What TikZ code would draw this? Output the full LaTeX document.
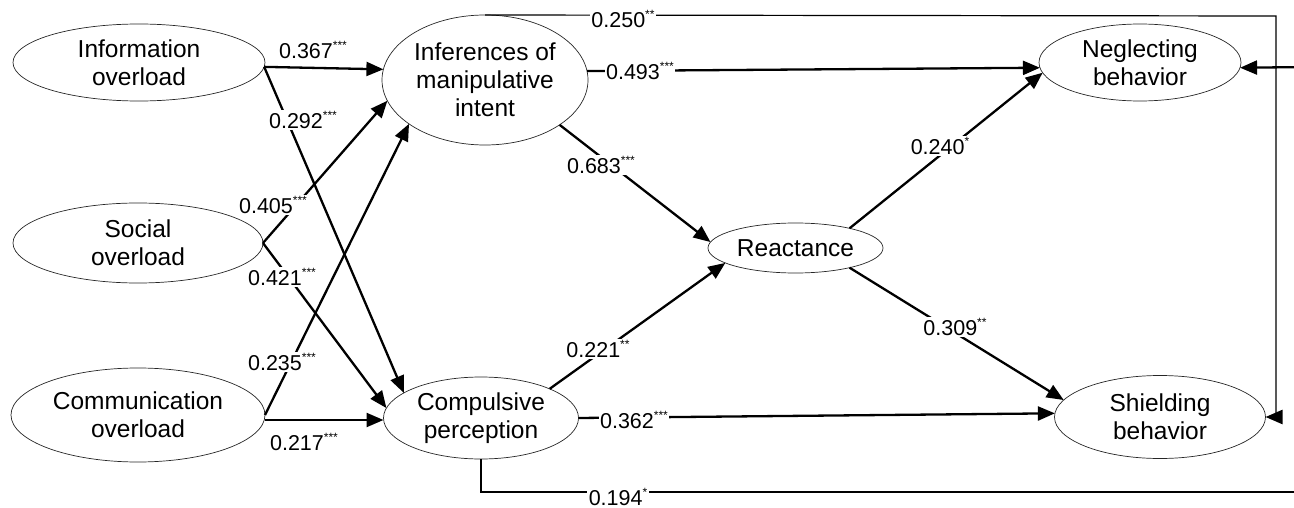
\documentclass[tikz,border=0pt]{standalone}
\usepackage{fontspec}
\setmainfont{Liberation Sans}
\usetikzlibrary{arrows.meta,shapes.geometric}
\newcommand{\sigmark}[1]{\raisebox{9pt}{\fontsize{12}{12}\selectfont #1}}
\tikzset{
  var/.style={ellipse, draw=black!85, line width=0.7pt, inner sep=0pt, outer sep=0pt,
    align=center, font=\fontsize{24.5}{28}\selectfont},
  path/.style={line width=2.3pt, -{Triangle[length=17pt,width=14pt]}},
  fb/.style={line width=1.2pt},
  lbl/.style={font=\fontsize{21.5}{25}\selectfont, inner sep=1.5pt},
  lblw/.style={lbl, fill=white},
}
\begin{document}
\begin{tikzpicture}[x=1pt,y=-1pt]
\useasboundingbox (0,0) rectangle (1294,508);
\clip (0,0) rectangle (1294,508);

\node[var, minimum width=252pt, minimum height=77pt] (info) at (139,62.5) {Information\\overload};
\node[var, minimum width=250pt, minimum height=80pt] (social) at (138,243) {Social\\overload};
\node[var, minimum width=254pt, minimum height=94pt] (comm) at (138,415) {Communication\\overload};
\node[var, minimum width=206pt, minimum height=130pt] (inf) at (485,80) {Inferences of\\manipulative\\intent};
\node[var, minimum width=195pt, minimum height=82pt] (cp) at (481,418) {Compulsive\\perception};
\node[var, minimum width=175pt, minimum height=50pt] (react) at (795.5,248) {Reactance};
\node[var, minimum width=202pt, minimum height=77pt] (neg) at (1140,62.5) {Neglecting\\behavior};
\node[var, minimum width=211pt, minimum height=83pt] (shield) at (1160,417) {Shielding\\behavior};

\coordinate (rt) at (1276,16);
\coordinate (rb) at (1276,417);
\coordinate (bc) at (1310,492);
\coordinate (tc) at (1310,67);

% feedback lines
\draw[fb] (inf.north) -- (rt) -- (rb);
\draw[path] (rb) -- (shield.east);
\draw[fb] (cp.south) |- (bc) -- (tc);
\draw[path] (tc) -- (neg.-3);

% paths
\draw[path] (info.-2.5) -- (inf.174);
\draw[path] (info.-2.5) -- (cp.162);
\draw[path] (social.east) -- (inf.192);
\draw[path] (social.east) -- (cp.174);
\draw[path] (comm.east) -- (inf.210);
\draw[path] ([yshift=-5pt]comm.east) -- ([yshift=-2pt]cp.west);
\draw[path] (inf.-31) -- (react.176);
\draw[path] (cp.23) -- (react.192);
\draw[path] (react.20) -- (neg.186);
\draw[path] (react.-20) -- (shield.170);
\draw[path] (inf.5) -- (neg.183);
\draw[path] (cp.east) -- (shield.178);

% labels
\node[lbl]  (l367) at (313,50)  {0.367\sigmark{***}};
\node[lblw] (l292) at (303,120) {0.292\sigmark{***}};
\node[lblw] (l405) at (273,205) {0.405\sigmark{***}};
\node[lblw] (l421) at (282,277) {0.421\sigmark{***}};
\node[lblw] (l235) at (282,362) {0.235\sigmark{***}};
\node[lbl]  (l217) at (304,442) {0.217\sigmark{***}};
\node[lblw] (l493) at (640,71)  {0.493\sigmark{***}};
\node[lblw] (l250) at (623,19)  {0.250\sigmark{**}};
\node[lblw] (l683) at (601,165) {0.683\sigmark{***}};
\node[lblw] (l221) at (598,349) {0.221\sigmark{**}};
\node[lblw] (l240) at (940,146) {0.240\sigmark{*}};
\node[lblw] (l309) at (955,327) {0.309\sigmark{**}};
\node[lblw] (l362) at (634,420) {0.362\sigmark{***}};
\node[lblw] (l194) at (618,497) {0.194\sigmark{*}};
\end{tikzpicture}
\end{document}
